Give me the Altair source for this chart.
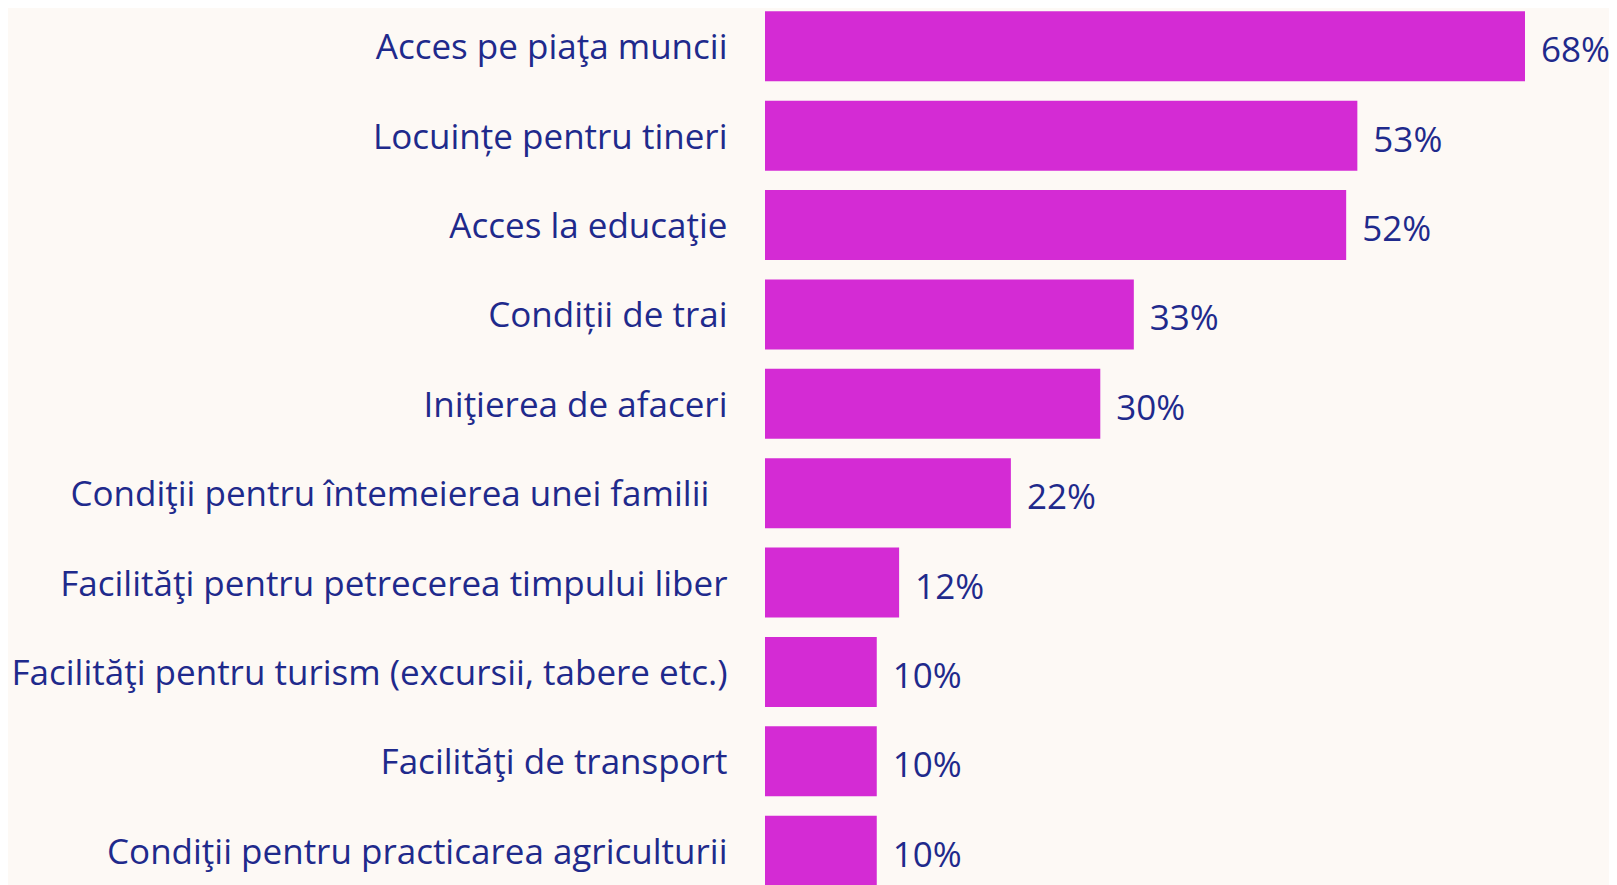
import altair as alt
import pandas as pd

categories = [
    "Acces pe piaţa muncii",
    "Locuințe pentru tineri",
    "Acces la educaţie",
    "Condiții de trai",
    "Iniţierea de afaceri",
    "Condiţii pentru întemeierea unei familii\u00a0\u00a0\u200b",
    "Facilităţi pentru petrecerea timpului liber",
    "Facilităţi pentru turism (excursii, tabere etc.)",
    "Facilităţi de transport",
    "Condiţii pentru practicarea agriculturii",
]
values = [68, 53, 52, 33, 30, 22, 12, 10, 10, 10]
value_labels = [f"{v}%" for v in values]

df = pd.DataFrame({"cat": categories, "value": values, "label": value_labels})

BAR = "#D42BD4"
TEXT = "#1F2A8C"
BG = "#FDF9F5"
FONT = "Open Sans"

y_enc = alt.Y(
    "cat:N",
    sort=None,
    title=None,
    scale=alt.Scale(range=[0, 881], paddingInner=0.217, paddingOuter=0.037),
    axis=alt.Axis(
        domain=False,
        ticks=False,
        tickSize=0,
        labelPadding=38,
        labelOffset=2,
        labelFont=FONT,
        labelFontSize=35,
        labelColor=TEXT,
        labelLimit=0,
    ),
)
x_enc = alt.X("value:Q", scale=alt.Scale(domain=[0, max(values)]), axis=None)

bars = alt.Chart(df).mark_bar(color=BAR).encode(y=y_enc, x=x_enc)
text = alt.Chart(df).mark_text(
    align="left", baseline="middle", dx=16, dy=5, font=FONT, fontSize=35, color=TEXT
).encode(y=y_enc, x=x_enc, text="label:N")

chart = (
    alt.layer(bars, text)
    .properties(
        width=760,
        height=877,
        background=BG,
        autosize=alt.AutoSizeParams(type="none"),
        padding={"left": 757, "top": 0, "right": 84, "bottom": 0},
    )
    .configure_view(stroke=None)
)

chart.save("out.html", embed_options={"renderer": "svg", "actions": False})
